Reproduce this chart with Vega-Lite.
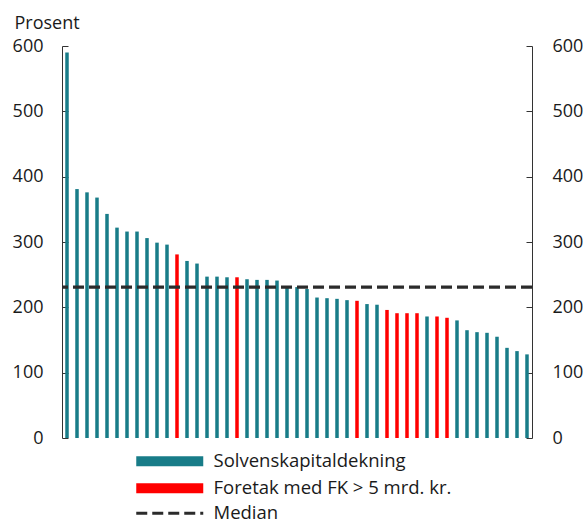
{
  "$schema": "https://vega.github.io/schema/vega-lite/v6.json",
  "autosize": {"type": "none"},
  "padding": {"left": 62, "top": 46, "right": 53, "bottom": 82},
  "width": 470,
  "height": 392,
  "config": {
    "view": {"stroke": null},
    "font": "Open Sans",
    "text": {"font": "Open Sans"}
  },
  "data": {
    "values": [
      {"id": 1, "value": 590, "group": "Solvenskapitaldekning"},
      {"id": 2, "value": 381, "group": "Solvenskapitaldekning"},
      {"id": 3, "value": 376, "group": "Solvenskapitaldekning"},
      {"id": 4, "value": 368, "group": "Solvenskapitaldekning"},
      {"id": 5, "value": 343, "group": "Solvenskapitaldekning"},
      {"id": 6, "value": 322, "group": "Solvenskapitaldekning"},
      {"id": 7, "value": 316, "group": "Solvenskapitaldekning"},
      {"id": 8, "value": 316, "group": "Solvenskapitaldekning"},
      {"id": 9, "value": 306, "group": "Solvenskapitaldekning"},
      {"id": 10, "value": 299, "group": "Solvenskapitaldekning"},
      {"id": 11, "value": 296, "group": "Solvenskapitaldekning"},
      {"id": 12, "value": 281, "group": "Foretak med FK > 5 mrd. kr."},
      {"id": 13, "value": 271, "group": "Solvenskapitaldekning"},
      {"id": 14, "value": 267, "group": "Solvenskapitaldekning"},
      {"id": 15, "value": 247, "group": "Solvenskapitaldekning"},
      {"id": 16, "value": 247, "group": "Solvenskapitaldekning"},
      {"id": 17, "value": 246, "group": "Solvenskapitaldekning"},
      {"id": 18, "value": 246, "group": "Foretak med FK > 5 mrd. kr."},
      {"id": 19, "value": 243, "group": "Solvenskapitaldekning"},
      {"id": 20, "value": 242, "group": "Solvenskapitaldekning"},
      {"id": 21, "value": 242, "group": "Solvenskapitaldekning"},
      {"id": 22, "value": 241, "group": "Solvenskapitaldekning"},
      {"id": 23, "value": 232, "group": "Solvenskapitaldekning"},
      {"id": 24, "value": 231, "group": "Solvenskapitaldekning"},
      {"id": 25, "value": 228, "group": "Solvenskapitaldekning"},
      {"id": 26, "value": 215, "group": "Solvenskapitaldekning"},
      {"id": 27, "value": 214, "group": "Solvenskapitaldekning"},
      {"id": 28, "value": 213, "group": "Solvenskapitaldekning"},
      {"id": 29, "value": 211, "group": "Solvenskapitaldekning"},
      {"id": 30, "value": 210, "group": "Foretak med FK > 5 mrd. kr."},
      {"id": 31, "value": 205, "group": "Solvenskapitaldekning"},
      {"id": 32, "value": 204, "group": "Solvenskapitaldekning"},
      {"id": 33, "value": 196, "group": "Foretak med FK > 5 mrd. kr."},
      {"id": 34, "value": 191, "group": "Foretak med FK > 5 mrd. kr."},
      {"id": 35, "value": 191, "group": "Foretak med FK > 5 mrd. kr."},
      {"id": 36, "value": 191, "group": "Foretak med FK > 5 mrd. kr."},
      {"id": 37, "value": 186, "group": "Solvenskapitaldekning"},
      {"id": 38, "value": 186, "group": "Foretak med FK > 5 mrd. kr."},
      {"id": 39, "value": 184, "group": "Foretak med FK > 5 mrd. kr."},
      {"id": 40, "value": 180, "group": "Solvenskapitaldekning"},
      {"id": 41, "value": 165, "group": "Solvenskapitaldekning"},
      {"id": 42, "value": 162, "group": "Solvenskapitaldekning"},
      {"id": 43, "value": 161, "group": "Solvenskapitaldekning"},
      {"id": 44, "value": 155, "group": "Solvenskapitaldekning"},
      {"id": 45, "value": 138, "group": "Solvenskapitaldekning"},
      {"id": 46, "value": 133, "group": "Solvenskapitaldekning"},
      {"id": 47, "value": 128, "group": "Solvenskapitaldekning"}
    ]
  },
  "resolve": {"axis": {"y": "independent"}},
  "layer": [
    {
      "mark": {"type": "bar"},
      "encoding": {
        "x": {
          "field": "id",
          "type": "ordinal",
          "axis": null,
          "scale": {"paddingInner": 0.65, "paddingOuter": 0.325}
        },
        "y": {
          "field": "value",
          "type": "quantitative",
          "scale": {"domain": [0, 600], "nice": false},
          "axis": {
            "orient": "left",
            "values": [0, 100, 200, 300, 400, 500, 600],
            "grid": false,
            "domainColor": "#333333",
            "tickColor": "#333333",
            "tickSize": -6,
            "labelPadding": 25,
            "labelFontSize": 18,
            "labelColor": "#1a1a1a",
            "labelFont": "Open Sans",
            "title": "Prosent",
            "titleAngle": 0,
            "titleX": -48,
            "titleY": -18,
            "titleAlign": "left",
            "titleBaseline": "alphabetic",
            "titleFontSize": 18,
            "titleFontWeight": "normal",
            "titleColor": "#1a1a1a",
            "titleFont": "Open Sans"
          }
        },
        "color": {
          "field": "group",
          "type": "nominal",
          "scale": {
            "domain": ["Solvenskapitaldekning", "Foretak med FK > 5 mrd. kr."],
            "range": ["#187c88", "#ff0000"]
          },
          "legend": {
            "title": null,
            "orient": "none",
            "legendX": 70,
            "legendY": 406,
            "symbolType": "M-1,-1h13.4v2h-13.4z",
            "symbolSize": 100,
            "symbolStrokeWidth": 0,
            "labelFontSize": 18.5,
            "labelFont": "Open Sans",
            "labelColor": "#1a1a1a",
            "labelOffset": 63,
            "labelLimit": 400,
            "rowPadding": 8
          }
        }
      }
    },
    {
      "mark": {"type": "rule", "strokeWidth": 3.2, "color": "#2b2b2b"},
      "encoding": {
        "y": {
          "aggregate": "median",
          "field": "value",
          "type": "quantitative",
          "axis": {
            "orient": "right",
            "values": [0, 100, 200, 300, 400, 500, 600],
            "grid": false,
            "domainColor": "#333333",
            "tickColor": "#333333",
            "tickSize": -6,
            "labelPadding": 26,
            "labelFontSize": 18,
            "labelColor": "#1a1a1a",
            "labelFont": "Open Sans",
            "title": null
          }
        },
        "strokeDash": {
          "datum": "Median",
          "type": "nominal",
          "scale": {"domain": ["Median"], "range": [[11, 5]]},
          "legend": {
            "title": null,
            "orient": "none",
            "legendX": 70,
            "legendY": 458,
            "symbolType": "M-1,0h13.4",
            "symbolSize": 100,
            "symbolStrokeWidth": 3.2,
            "symbolStrokeColor": "#2b2b2b",
            "symbolFillColor": "transparent",
            "labelFontSize": 18.5,
            "labelFont": "Open Sans",
            "labelColor": "#1a1a1a",
            "labelOffset": 63,
            "labelLimit": 400
          }
        }
      }
    }
  ]
}
